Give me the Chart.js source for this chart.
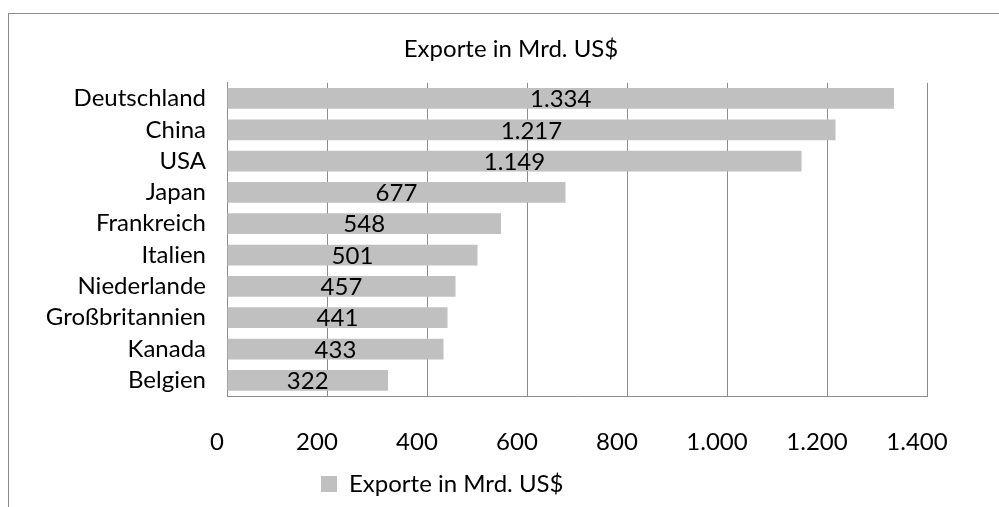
<!DOCTYPE html>
<html>
<head>
<meta charset="utf-8">
<script src="https://cdn.jsdelivr.net/npm/chart.js@4"></script>
<style>
  body { margin: 0; background: #fff; }
  #wrap { position: relative; width: 999px; height: 507px; }
</style>
</head>
<body>
<div id="wrap"><canvas id="exportChart"></canvas></div>
<script>
// data
const countries = ["Deutschland", "China", "USA", "Japan", "Frankreich", "Italien", "Niederlande", "Großbritannien", "Kanada", "Belgien"];
const exportsBn = [1334, 1217, 1149, 677, 548, 501, 457, 441, 433, 322];
const seriesName = "Exporte in Mrd. US$";
const axisMin = 0;
const axisMax = 1400;
const axisStep = 200;

const FONT = "Lato";
const GREY = "#8c8c8c";

// german number format, 1334 -> 1.334
function deNum(v) {
  return String(Math.round(v)).replace(/\B(?=(\d{3})+(?!\d))/g, ".");
}

// grey frame of the excel chart object (cut off at right and bottom)
const framePlugin = {
  id: "frame",
  beforeDraw(chart) {
    const ctx = chart.ctx;
    ctx.save();
    ctx.strokeStyle = GREY;
    ctx.lineWidth = 1;
    ctx.strokeRect(8.5, 13.5, chart.width + 20, chart.height + 20);
    ctx.restore();
  }
};

// value in the middle of each bar
const valueLabels = {
  id: "valueLabels",
  afterDatasetsDraw(chart) {
    const ctx = chart.ctx;
    const meta = chart.getDatasetMeta(0);
    ctx.save();
    ctx.font = "24px " + FONT;
    ctx.fillStyle = "#000";
    ctx.textAlign = "center";
    ctx.textBaseline = "middle";
    meta.data.forEach((bar, i) => {
      const v = chart.data.datasets[0].data[i];
      ctx.fillText(deNum(v), (bar.base + bar.x) / 2, bar.y + 1);
    });
    ctx.restore();
  }
};

// title and legend sit where excel put them, not centred on the canvas
const boxShift = {
  id: "boxShift",
  afterLayout(chart) {
    const t = chart.titleBlock;
    const tw = t.right - t.left;
    t.left = 511 - tw / 2;
    t.right = 511 + tw / 2;
    const lg = chart.legend;
    const lw = lg.right - lg.left;
    lg.left = 315;
    lg.right = 315 + lw;
  }
};

new Chart(document.getElementById("exportChart"), {
  type: "bar",
  data: {
    labels: countries,
    datasets: [{
      label: seriesName,
      data: exportsBn,
      backgroundColor: "#c0c0c0",
      borderWidth: 0,
      barPercentage: 0.663,
      categoryPercentage: 1
    }]
  },
  options: {
    indexAxis: "y",
    responsive: true,
    maintainAspectRatio: false,
    animation: false,
    devicePixelRatio: 1,
    layout: { padding: { left: 0, right: 72, top: 0, bottom: 1 } },
    plugins: {
      title: {
        display: true,
        text: seriesName,
        color: "#000",
        font: { family: FONT, size: 24, weight: "normal" },
        padding: { top: 35, bottom: 19 }
      },
      legend: {
        position: "bottom",
        align: "start",
        labels: {
          color: "#000",
          font: { family: FONT, size: 24 },
          boxWidth: 16,
          boxHeight: 16,
          padding: 6
        }
      },
      tooltip: { enabled: false }
    },
    scales: {
      x: {
        min: axisMin,
        max: axisMax,
        afterFit(scale) { scale.height = 70; },
        ticks: {
          stepSize: axisStep,
          color: "#000",
          font: { family: FONT, size: 24 },
          padding: 32,
          labelOffset: -10,
          callback: (v) => deNum(v)
        },
        grid: { color: GREY, drawTicks: false },
        border: { color: GREY }
      },
      y: {
        afterFit(scale) { scale.width = 227; },
        ticks: {
          autoSkip: false,
          color: "#000",
          font: { family: FONT, size: 24 },
          padding: 21
        },
        grid: { display: false, drawTicks: false },
        border: { color: GREY }
      }
    }
  },
  plugins: [framePlugin, valueLabels, boxShift]
});
</script>
</body>
</html>
